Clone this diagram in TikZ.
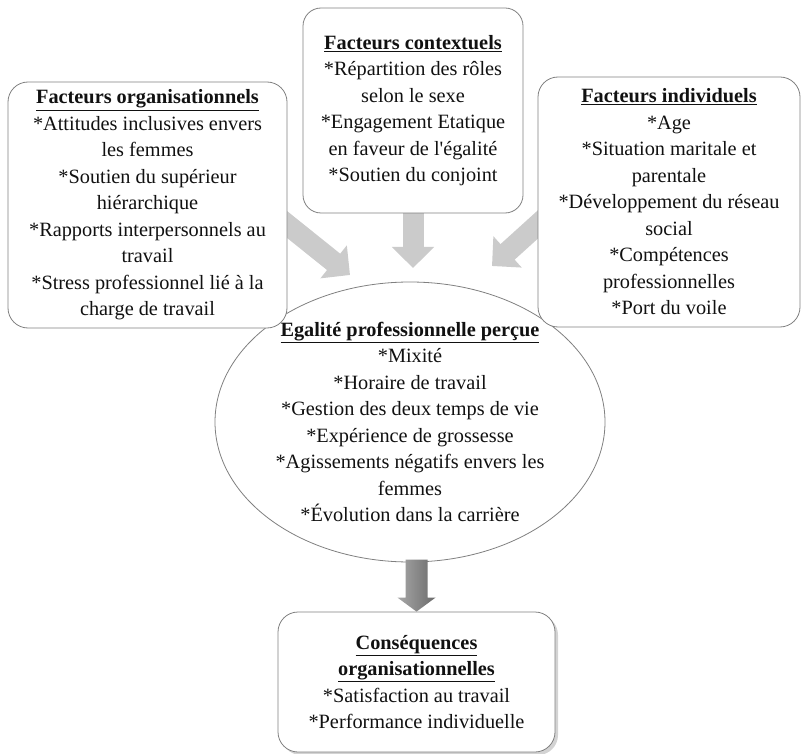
\documentclass[tikz,border=0pt]{standalone}
\usepackage{fontspec}
\setmainfont{Liberation Serif}
\usepackage{tikz}
\usetikzlibrary{arrows.meta,positioning,calc,backgrounds,shapes.geometric,shadows}
\definecolor{cInk}{HTML}{111111}
\definecolor{cEdge}{HTML}{808080}
\definecolor{cArrow}{HTML}{CBCBCB}
\definecolor{cMid}{HTML}{A8A8A8}
\definecolor{cDark}{HTML}{6A6A6A}
\tikzset{
  fbox/.style={draw=cEdge,fill=white,rounded corners=#1,line width=0.8pt,align=center,text=cInk,inner sep=0pt},
  fbox/.default=20pt,
  ebox/.style={draw=cEdge,fill=white,ellipse,line width=0.8pt,inner sep=0pt},
  txt/.style={align=center,text=cInk,inner sep=0pt},
  fat/.style={-{Triangle[length=21pt,width=41pt]},line width=21pt,color=cArrow},
  botarr/.style={left color=cMid,right color=cDark,draw=none},
  shd/.style={drop shadow={shadow xshift=3pt,shadow yshift=-3pt,opacity=0.35}},
}
\newcommand{\fhead}[1]{\underline{\textbf{#1}}}

\begin{document}
\begin{tikzpicture}[x=1pt,y=-1pt,font=\fontsize{20.3}{26.5}\selectfont]
  \useasboundingbox (0,0) rectangle (801,754);
  % perceived equality
  \node[ebox,minimum width=390pt,minimum height=280pt] (eq) at (410,422) {};
  \node[txt] (eqtxt) at (eq.center) {\fhead{Egalité professionnelle perçue}\\{}*Mixité\\{}*Horaire de travail\\{}*Gestion des deux temps de vie\\{}*Expérience de grossesse\\{}*Agissements négatifs envers les\\femmes\\{}*Évolution dans la carrière};
  % factor boxes
  \node[fbox,minimum width=279pt,minimum height=246pt] (org) at (147.5,205) {\fhead{Facteurs organisationnels}\\{}*Attitudes inclusives envers\\les femmes\\{}*Soutien du supérieur\\hiérarchique\\{}*Rapports interpersonnels au\\travail\\{}*Stress professionnel lié à la\\charge de travail};
  \node[fbox=18pt,minimum width=220pt,minimum height=205pt] (ctx) at (413,110.5) {\fhead{Facteurs contextuels}\\{}*Répartition des rôles\\selon le sexe\\{}*Engagement Etatique\\en faveur de l\textquotesingle égalité\\{}*Soutien du conjoint};
  \node[fbox,minimum width=262pt,minimum height=250pt] (ind) at (669,202) {\fhead{Facteurs individuels}\\{}*Age\\{}*Situation maritale et\\parentale\\{}*Développement du réseau\\social\\{}*Compétences\\professionnelles\\{}*Port du voile};
  % consequences
  \node[fbox,shd,minimum width=277pt,minimum height=140pt] (cons) at (416.5,682) {\fhead{Conséquences}\\\fhead{organisationnelles}\\{}*Satisfaction au travail\\{}*Performance individuelle};
  \coordinate (orgTail) at (264,206);
  \coordinate (orgTip) at (350,275);
  \coordinate (ctxTail) at (413,200);
  \coordinate (ctxTip) at (413,268);
  \coordinate (indTail) at (566,199);
  \coordinate (indTip) at (492,266);
  \begin{scope}[on background layer]
    \draw[fat] (orgTail) -- (orgTip);
    \draw[fat] (ctxTail) -- (ctxTip);
    \draw[fat] (indTail) -- (indTip);
  \end{scope}
  \shade[botarr] (cons.north) -- ++(-19,-14) -- ++(8,0) -- ++(0,-38) -- ++(22,0) -- ++(0,38) -- ++(8,0) -- cycle;
\end{tikzpicture}
\end{document}
